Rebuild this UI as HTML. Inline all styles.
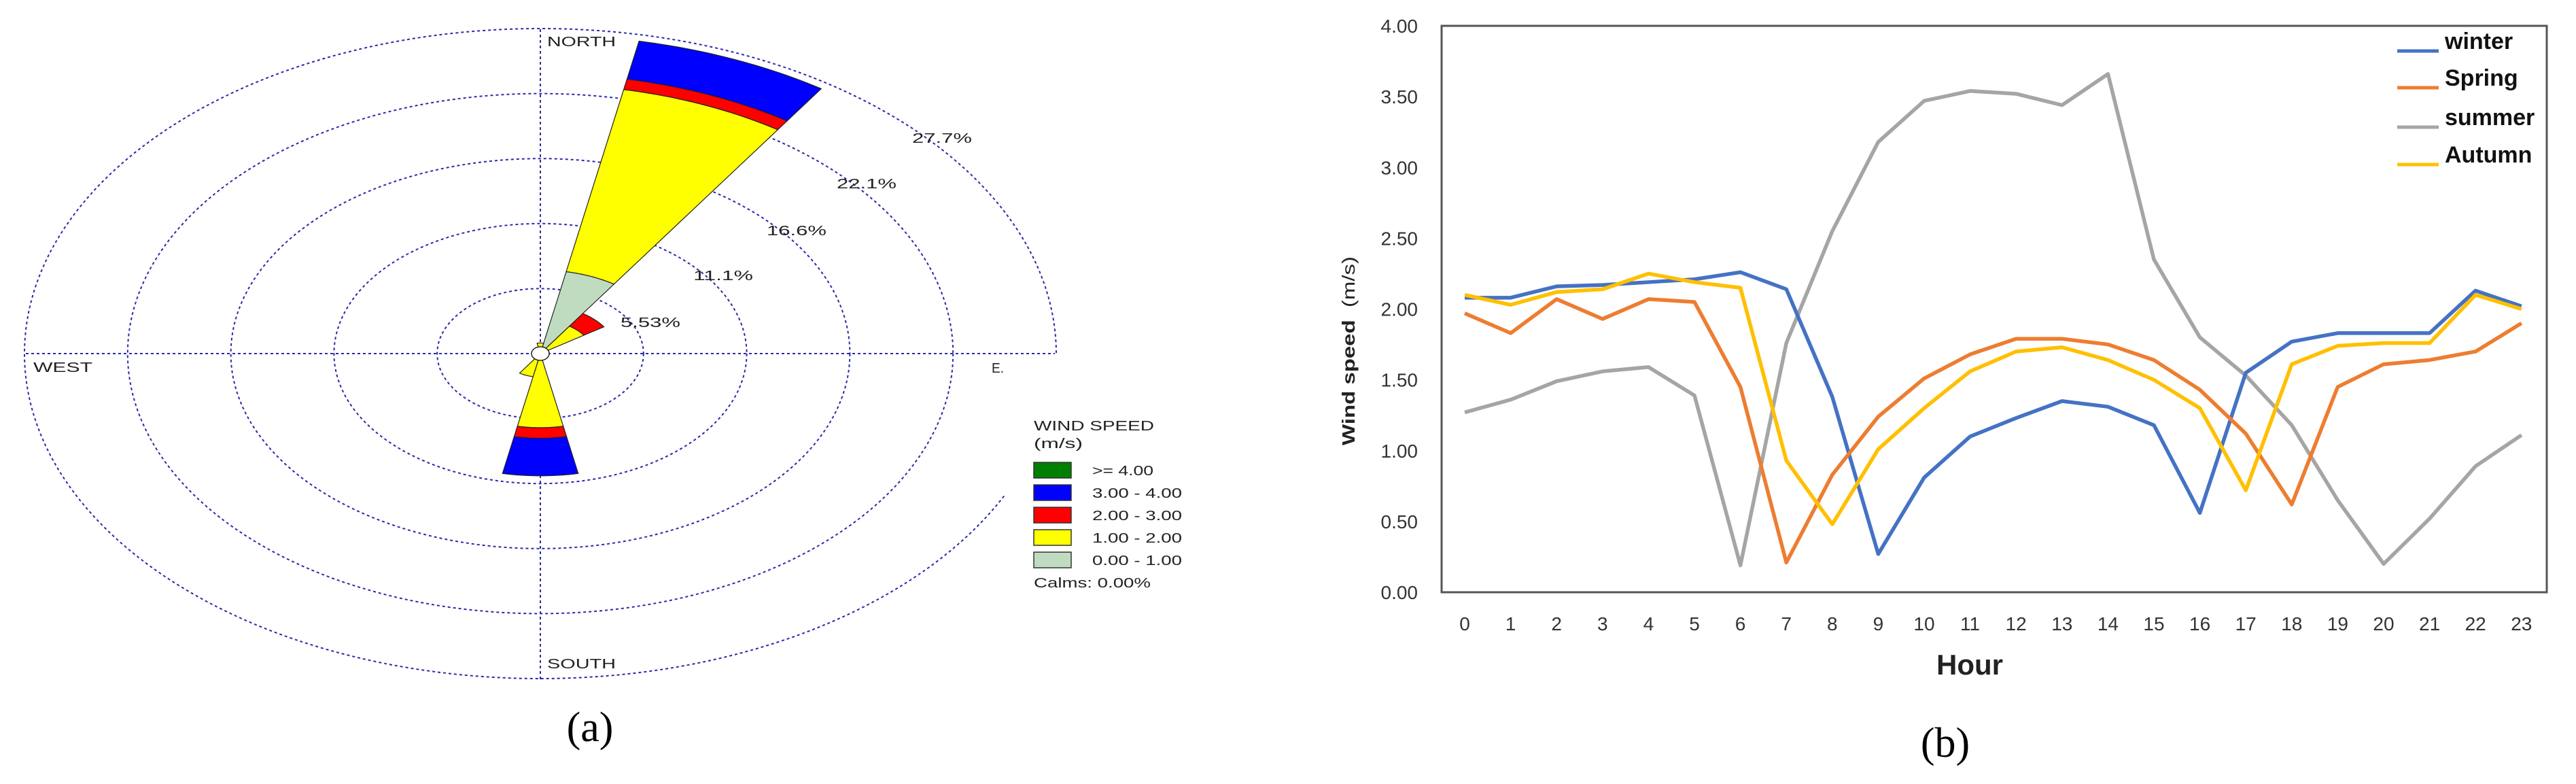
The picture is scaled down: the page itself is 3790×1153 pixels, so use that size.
<!DOCTYPE html>
<html><head><meta charset="utf-8"><style>
html,body{margin:0;padding:0;background:#fff;}
svg{display:block;}
text{font-family:"Liberation Sans",sans-serif;}
</style></head><body>
<svg id="fig" width="3790" height="1153" viewBox="0 0 3790 1153" xmlns="http://www.w3.org/2000/svg">
<g id="rose"></g>
<g id="line"></g>
</svg>
<script>
// ---------- Wind rose data ----------
const roseDirs = [22.5, 45, 180, 202.5, 0];
const roseCalmLimit = [0.2, 0.2, 0.2, 0.2, 0.2];
const roseSeg1 = [7.1, 0.0, 0.0, 0.0, 0.0];   // 0-1
const roseSeg2 = [22.9, 2.8, 6.3, 2.0, 0.9];   // 1-2 (cumulative)
const roseSeg3 = [23.8, 4.1, 7.2, 2.0, 0.9];   // 2-3 (cumulative)
const roseSeg4 = [27.1, 4.1, 10.4, 2.0, 0.9];  // 3-4 (cumulative)
const ringLabels = ["5.53%", "11.1%", "16.6%", "22.1%", "27.7%"];
const ringPct = 5.53;

// ---------- Line chart data ----------
const hours = [0,1,2,3,4,5,6,7,8,9,10,11,12,13,14,15,16,17,18,19,20,21,22,23];
const winter = [2.08,2.08,2.16,2.17,2.19,2.21,2.26,2.14,1.38,0.27,0.81,1.10,1.23,1.35,1.31,1.18,0.56,1.55,1.77,1.83,1.83,1.83,2.13,2.02];
const spring = [1.97,1.83,2.07,1.93,2.07,2.05,1.45,0.21,0.83,1.24,1.51,1.68,1.79,1.79,1.75,1.64,1.43,1.12,0.62,1.45,1.61,1.64,1.70,1.90];
const summer = [1.27,1.36,1.49,1.56,1.59,1.39,0.19,1.76,2.55,3.18,3.47,3.54,3.52,3.44,3.66,2.35,1.80,1.53,1.18,0.65,0.20,0.52,0.89,1.11];
const autumn = [2.10,2.03,2.12,2.14,2.25,2.19,2.15,0.93,0.48,1.01,1.30,1.56,1.70,1.73,1.64,1.50,1.30,0.72,1.61,1.74,1.76,1.76,2.10,2.00];
const yTicks = [0,0.5,1,1.5,2,2.5,3,3.5,4];
const seriesNames = ["winter","Spring","summer","Autumn"];

const NS = "http://www.w3.org/2000/svg";
function mk(parent, tag, attrs, txt){
  const e = document.createElementNS(NS, tag);
  for (const k in attrs) e.setAttribute(k, attrs[k]);
  if (txt !== undefined) e.textContent = txt;
  parent.appendChild(e);
  return e;
}

// ===== Wind rose =====
const rose = document.getElementById('rose');
const cx = 795, cy = 520, kx = 151.8/ringPct, ky = 95.6/ringPct;
function pt(deg, r){ const a = deg*Math.PI/180; return [cx + Math.sin(a)*r*kx, cy - Math.cos(a)*r*ky]; }
const dashStyle = {fill:'none', stroke:'#2a2aa8', 'stroke-width':2, 'stroke-dasharray':'4 4'};
for (let i = 1; i <= 4; i++) {
  const e = mk(rose, 'ellipse', Object.assign({cx:cx, cy:cy, rx:i*ringPct*kx, ry:i*ringPct*ky}, dashStyle));
  
  
}
{
  const rx = 5*ringPct*kx, ry = 5*ringPct*ky, a = 26*Math.PI/180;
  const sx = cx + rx*Math.cos(a), sy = cy + ry*Math.sin(a);
  const p = mk(rose, 'path', Object.assign({d:`M${sx},${sy} A${rx},${ry} 0 1 1 ${cx+rx},${cy}`}, dashStyle));
  
  
}
const ax1 = mk(rose, 'line', Object.assign({x1:38, y1:cy, x2:1552, y2:cy}, dashStyle));


const ax2 = mk(rose, 'line', Object.assign({x1:cx, y1:43, x2:cx, y2:999}, dashStyle));



function sector(dir, r1, r2, color, name){
  if (r2 <= r1) return;
  const a1 = dir - 11.25, a2 = dir + 11.25;
  let d = '';
  const n = 24;
  for (let i = 0; i <= n; i++) { const p = pt(a1 + (a2-a1)*i/n, r2); d += (i ? 'L' : 'M') + p[0] + ',' + p[1]; }
  for (let i = n; i >= 0; i--) { const p = pt(a1 + (a2-a1)*i/n, r1); d += 'L' + p[0] + ',' + p[1]; }
  const s = mk(rose, 'path', {d: d + 'Z', fill: color, stroke: '#222', 'stroke-width': 1.2});
  
  
}
roseDirs.forEach((dir, i) => {
  sector(dir, roseSeg3[i], roseSeg4[i], '#0000ff', 'petal-3-4-' + i);
  sector(dir, roseSeg2[i], roseSeg3[i], '#ff0000', 'petal-2-3-' + i);
  sector(dir, Math.max(roseSeg1[i], roseCalmLimit[i]), roseSeg2[i], '#ffff00', 'petal-1-2-' + i);
  sector(dir, roseCalmLimit[i], roseSeg1[i], '#c0dcc0', 'petal-0-1-' + i);
});
const calm = mk(rose, 'ellipse', {cx:cx, cy:cy, rx:13, ry:10, fill:'#fff', stroke:'#222', 'stroke-width':1.5});



function rtext(x, y, s, name, len, size){
  const a = {x:x, y:y, 'font-size':size||20, fill:'#222'};
  if (len) { a.textLength = len; a.lengthAdjust = 'spacingAndGlyphs'; }
  const t = mk(rose, 'text', a, s);
  
  
}
rtext(805, 68, 'NORTH', 'north-label', 101);
rtext(49, 547, 'WEST', 'west-label', 87);
rtext(1459, 548, 'E.', 'east-label', 18);
rtext(805, 983, 'SOUTH', 'south-label', 101);
const lblPos = [[913,481],[1020,412],[1128,346],[1231,277],[1342,210]];
ringLabels.forEach((s, i) => rtext(lblPos[i][0], lblPos[i][1], s, 'ring-label-' + (i+1), 88));
rtext(1521, 633, 'WIND SPEED', 'legend-title', 177);
rtext(1521, 659, '(m/s)', 'legend-units', 72);
const legCols = ['#008000','#0000ff','#ff0000','#ffff00','#c0dcc0'];
const legTxt = ['>= 4.00','3.00 - 4.00','2.00 - 3.00','1.00 - 2.00','0.00 - 1.00'];
const legY = [680,713,746,779,812];
legCols.forEach((c, i) => {
  const r = mk(rose, 'rect', {x:1521, y:legY[i], width:55, height:23, fill:c, stroke:'#333', 'stroke-width':1.5});
  
  
  rtext(1607, legY[i] + 19, legTxt[i], 'legend-label-' + i, i ? 132 : 90);
});
rtext(1521, 864, 'Calms: 0.00%', 'calms-label', 172);
const capA = mk(rose, 'text', {x:868, y:1090, 'font-size':62, 'text-anchor':'middle', fill:'#000', style:'font-family:"Liberation Serif",serif'}, '(a)');



// ===== Line chart =====
const lc = document.getElementById('line');
const X0 = 2155, DX = 67.6, Y0 = 871, YTOP = 38;
const xS = h => X0 + h*DX;
const yS = v => Y0 - (v/4)*(Y0 - YTOP);
const frame = mk(lc, 'rect', {x:2121, y:YTOP, width:3747-2121, height:Y0-YTOP, fill:'none', stroke:'#555', 'stroke-width':3});


yTicks.forEach(v => {
  const t = mk(lc, 'text', {x:2086, y:yS(v)+10, 'font-size':28, 'text-anchor':'end', fill:'#333'}, v.toFixed(2));
  
  
});
hours.forEach(h => {
  const t = mk(lc, 'text', {x:xS(h), y:927, 'font-size':28, 'text-anchor':'middle', fill:'#333'}, String(h));
  
  
});
const xt = mk(lc, 'text', {x:2898, y:992, 'font-size':42, 'font-weight':'bold', 'text-anchor':'middle', fill:'#222'}, 'Hour');


const yt = mk(lc, 'text', {x:0, y:0, 'font-size':26, 'text-anchor':'middle', fill:'#222', textLength:278, lengthAdjust:'spacingAndGlyphs', transform:'translate(1993,516) rotate(-90)'});


mk(yt, 'tspan', {'font-weight':'bold'}, 'Wind speed');
mk(yt, 'tspan', {}, '\u00a0\u00a0(m/s)');

const series = [winter, spring, summer, autumn];
const colors = ['#4472C4','#ED7D31','#A5A5A5','#FFC000'];
const order = [2, 0, 1, 3];
order.forEach(si => {
  const d = series[si].map((v, i) => (i ? 'L' : 'M') + xS(hours[i]) + ',' + yS(v)).join('');
  const p = mk(lc, 'path', {d:d, fill:'none', stroke:colors[si], 'stroke-width':5.5, 'stroke-linejoin':'round'});
  
  
});
const legYs = [75,129,187,242];
seriesNames.forEach((n, i) => {
  const l = mk(lc, 'line', {x1:3527, y1:legYs[i], x2:3588, y2:legYs[i], stroke:colors[i], 'stroke-width':5});
  
  
  const t = mk(lc, 'text', {x:3597, y:legYs[i]-3, 'font-size':34, 'font-weight':'bold', fill:'#111'}, n);
  
  
});
const capB = mk(lc, 'text', {x:2862, y:1113, 'font-size':62, 'text-anchor':'middle', fill:'#000', style:'font-family:"Liberation Serif",serif'}, '(b)');


</script>
</body></html>
